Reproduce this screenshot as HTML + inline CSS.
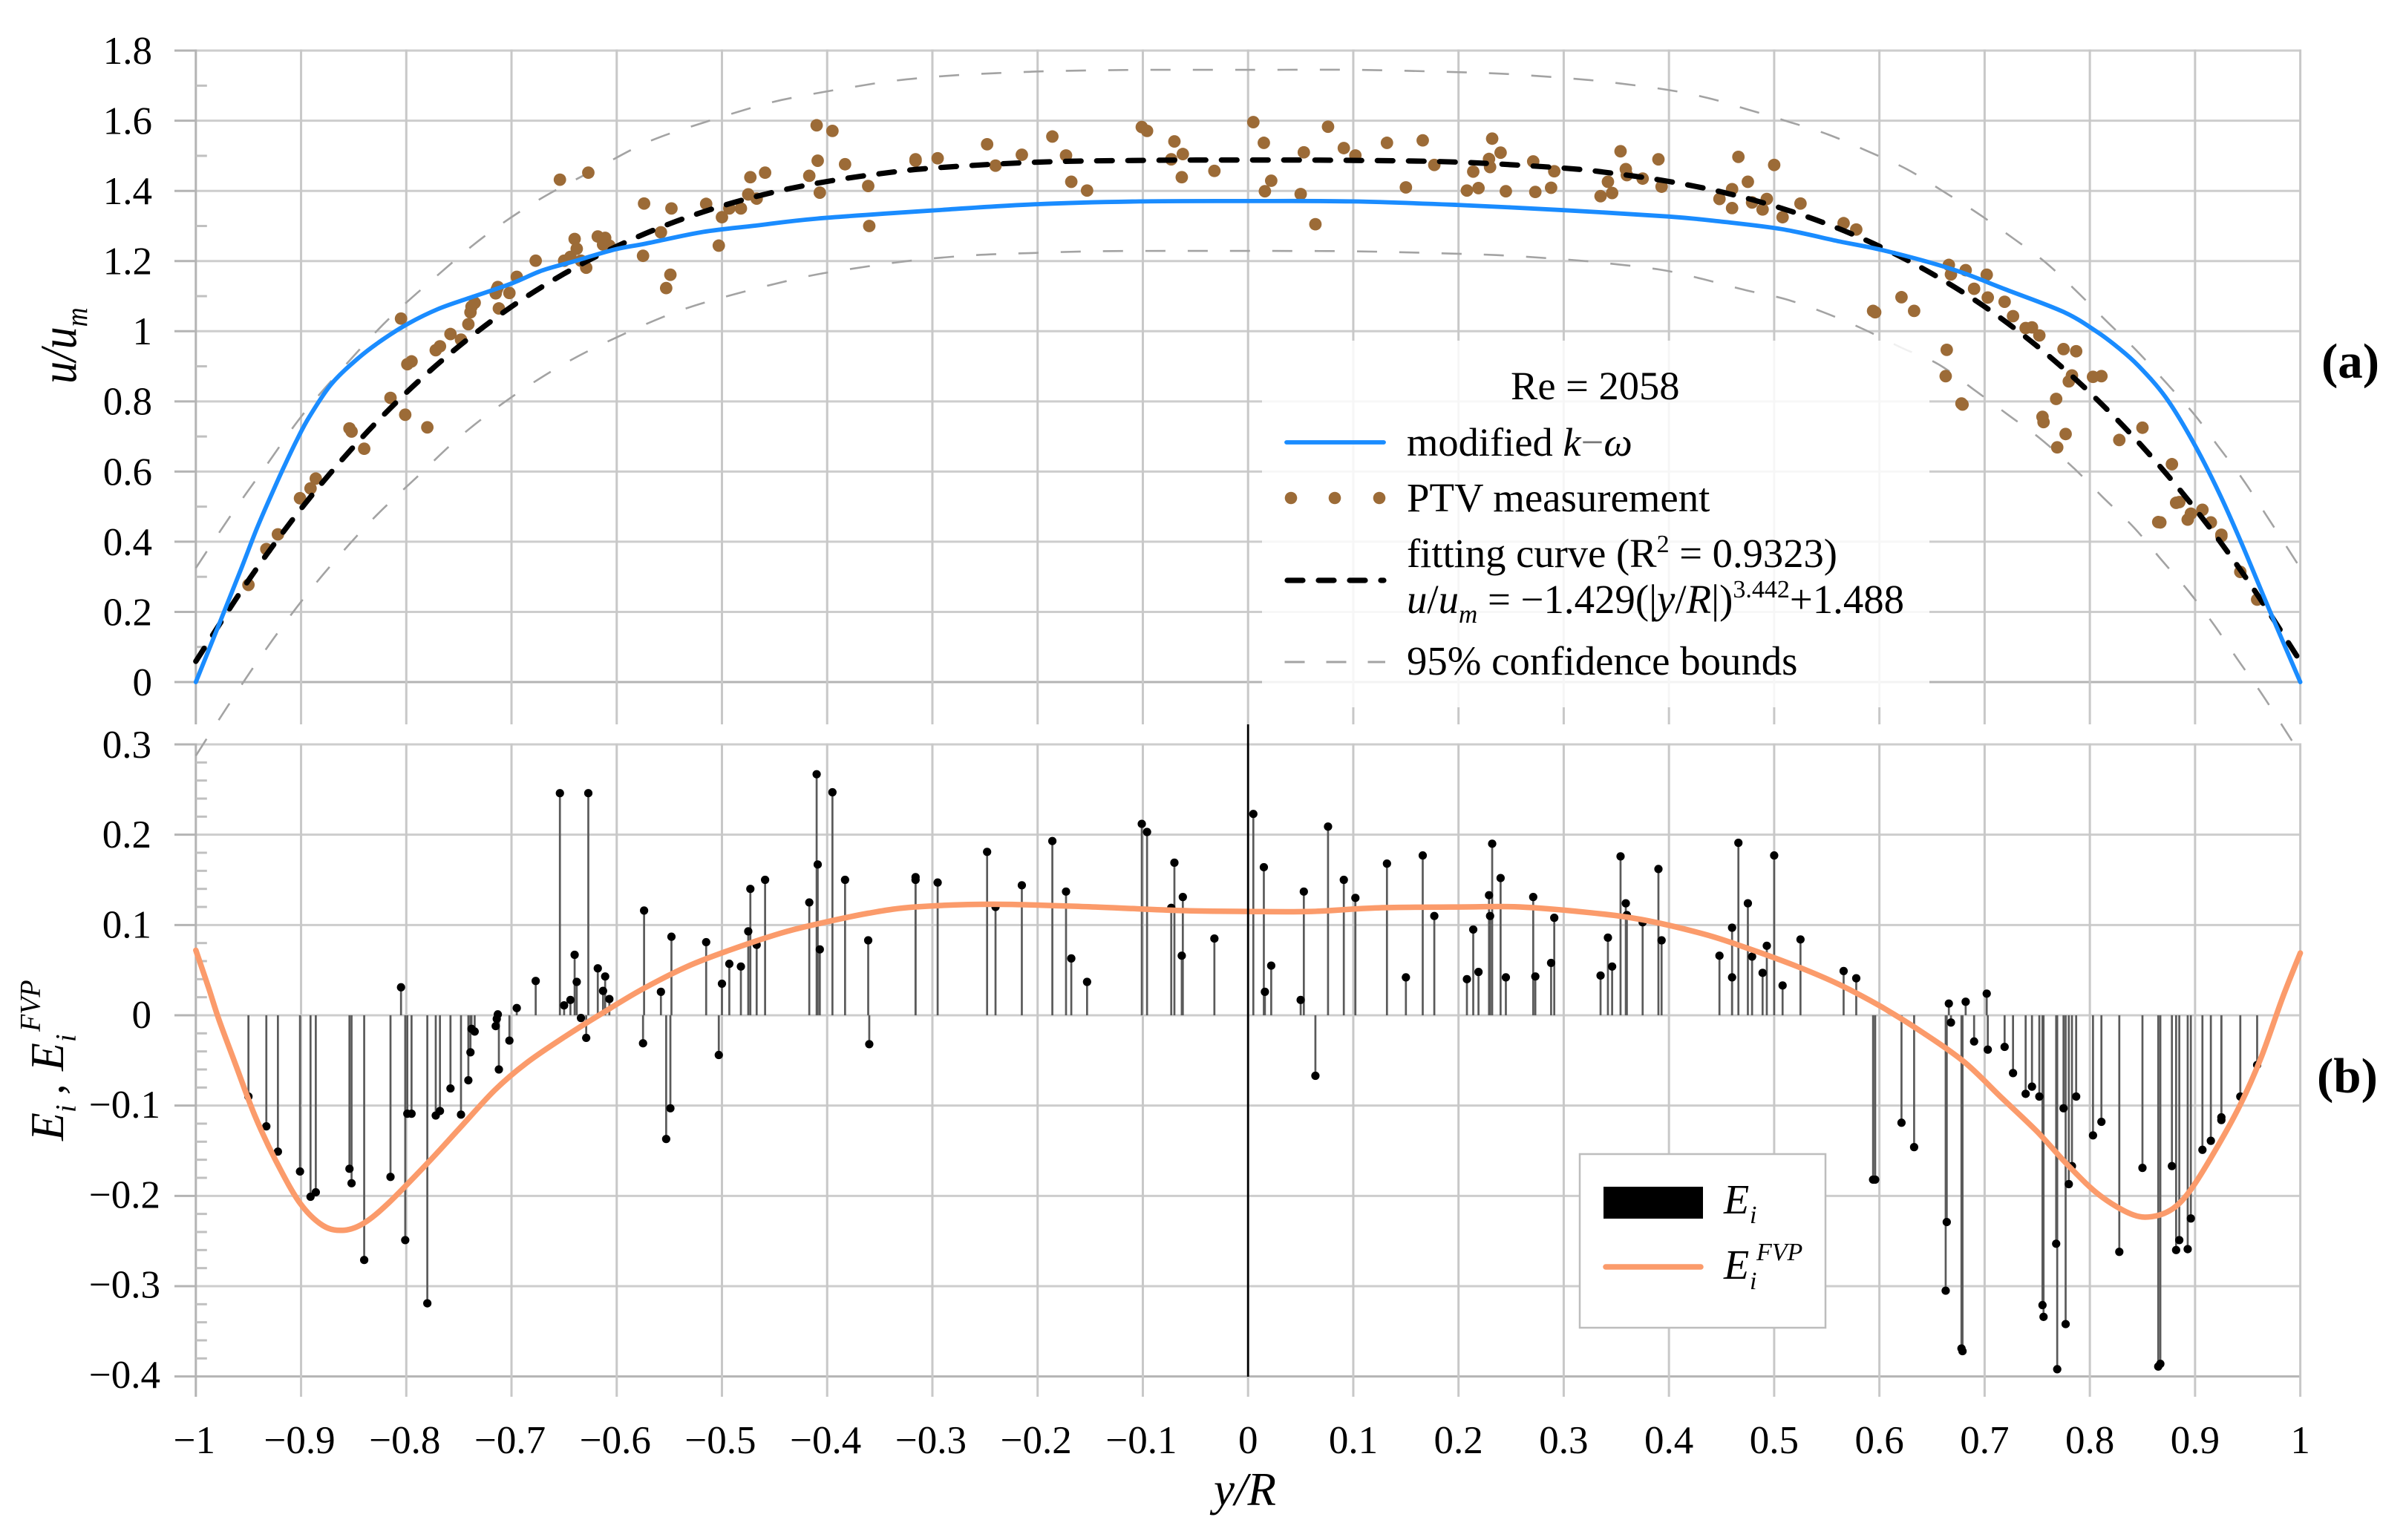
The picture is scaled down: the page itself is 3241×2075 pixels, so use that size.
<!DOCTYPE html>
<html lang="en">
<head>
<meta charset="utf-8">
<title>Velocity profile and error chart</title>
<style>
html,body{margin:0;padding:0;background:#fff;}
svg{display:block;}
text{font-family:"Liberation Serif",serif;fill:#000;}
.it{font-style:italic;}
</style>
</head>
<body>
<svg id="chart" xmlns="http://www.w3.org/2000/svg" width="3241" height="2075" viewBox="0 0 3241 2075">
<rect x="0" y="0" width="3241" height="2075" fill="#fff"/>
<g id="grid"></g>
<g id="bounds"></g>
<g id="points"></g>
<path id="fitLine" fill="none" stroke="#000" stroke-width="7.2" stroke-linecap="round" stroke-dasharray="21 21"/>
<path id="modelLine" fill="none" stroke="#1a8cff" stroke-width="5.8" stroke-linecap="round"/>
<g id="stems"></g>
<g id="errDots"></g>
<path id="fvpLine" fill="none" stroke="#fb9b6b" stroke-width="7.5" stroke-linecap="round"/>
<line x1="1681.2" y1="976" x2="1681.2" y2="1855" stroke="#000" stroke-width="2.8"/>
<g id="tickLabels" font-size="53"></g>

<g>
<rect x="1700" y="459" width="899" height="494" fill="#fff" fill-opacity="0.84"/>
<text x="2035" y="538" font-size="54.5">Re = 2058</text>
<line x1="1733" y1="596" x2="1864" y2="596" stroke="#1a8cff" stroke-width="5.8" stroke-linecap="round"/>
<text x="1895" y="614" font-size="54.5">modified <tspan class="it">k</tspan><tspan fill="#777">−</tspan><tspan class="it">ω</tspan></text>
<circle cx="1739" cy="671" r="8.3" fill="#9c6b37"/>
<circle cx="1798" cy="671" r="8.3" fill="#9c6b37"/>
<circle cx="1858" cy="671" r="8.3" fill="#9c6b37"/>
<text x="1895" y="689" font-size="54.8">PTV measurement</text>
<line x1="1734" y1="782" x2="1864" y2="782" stroke="#000" stroke-width="7.2" stroke-linecap="round" stroke-dasharray="21 21"/>
<text x="1895" y="764" font-size="54.6">fitting curve (R<tspan font-size="34" dy="-20">2</tspan><tspan dy="20"> = 0.9323)</tspan></text>
<text x="1895" y="826" font-size="54.8"><tspan class="it">u</tspan>/<tspan class="it">u</tspan><tspan class="it" font-size="35" dy="13">m</tspan><tspan dy="-13"> = −1.429(|</tspan><tspan class="it">y</tspan>/<tspan class="it">R</tspan>|)<tspan font-size="34" dy="-21">3.442</tspan><tspan dy="21">+1.488</tspan></text>
<line x1="1730.5" y1="892" x2="1866" y2="892" stroke="#a3a3a3" stroke-width="3" stroke-dasharray="27 29"/>
<text x="1895" y="909" font-size="54.8">95% confidence bounds</text>
</g>

<g>
<rect x="2128" y="1555" width="331" height="234" fill="#fff" stroke="#bdbdbd" stroke-width="2.5"/>
<rect x="2160" y="1599" width="134" height="43" fill="#000"/>
<line x1="2163" y1="1707" x2="2291" y2="1707" stroke="#fb9b6b" stroke-width="7.5" stroke-linecap="round"/>
<text class="it" x="2322" y="1635" font-size="56">E</text>
<text class="it" x="2357" y="1648" font-size="34">i</text>
<text class="it" x="2322" y="1723" font-size="56">E</text>
<text class="it" x="2357" y="1737" font-size="34">i</text>
<text class="it" x="2366" y="1698" font-size="34">FVP</text>
</g>

<g transform="translate(102,517) rotate(-90) scale(1,1.15)">
<text class="it" font-size="60">u/u<tspan font-size="36" dy="13">m</tspan></text>
</g>
<g transform="translate(85,1537) rotate(-90) scale(1,1.02)">
<text class="it" x="0" y="0" font-size="62">E</text>
<text class="it" x="38" y="16" font-size="38">i</text>
<text class="it" x="62" y="0" font-size="58">,</text>
<text class="it" x="94" y="0" font-size="62">E</text>
<text class="it" x="133" y="16" font-size="38">i</text>
<text class="it" x="147" y="-31" font-size="38">FVP</text>
</g>
<text x="1677" y="2028" font-size="63" text-anchor="middle" class="it">y/R</text>
<text x="3127" y="509" font-size="67" font-weight="bold">(a)</text>
<text x="3121" y="1472" font-size="67" font-weight="bold">(b)</text>
</svg>
<script>
const xTickLabels = ['−1','−0.9','−0.8','−0.7','−0.6','−0.5','−0.4','−0.3','−0.2','−0.1','0','0.1','0.2','0.3','0.4','0.5','0.6','0.7','0.8','0.9','1'];
const xTickValues = [-1,-0.9,-0.8,-0.7,-0.6,-0.5,-0.4,-0.3,-0.2,-0.1,0,0.1,0.2,0.3,0.4,0.5,0.6,0.7,0.8,0.9,1];
const uTickLabels = ['0','0.2','0.4','0.6','0.8','1','1.2','1.4','1.6','1.8'];
const uTickValues = [0,0.2,0.4,0.6,0.8,1,1.2,1.4,1.6,1.8];
const uMinorValues = [0.1,0.3,0.5,0.7,0.9,1.1,1.3,1.5,1.7];
const eTickLabels = ['0.3','0.2','0.1','0','−0.1','−0.2','−0.3','−0.4'];
const eTickValues = [0.3,0.2,0.1,0,-0.1,-0.2,-0.3,-0.4];
const eMinorValues = [0.28,0.26,0.24,0.22,0.18,0.16,0.14,0.12,0.08,0.06,0.04,0.02,-0.02,-0.04,-0.06,-0.08,-0.12,-0.14,-0.16,-0.18,-0.22,-0.24,-0.26,-0.28,-0.32,-0.34,-0.36,-0.38];

const ptvY = [-.950,-.933,-.922,-.901,-.891,-.886,-.854,-.852,-.840,-.815,-.805,-.801,-.799,-.795,-.780,-.772,-.768,-.758,-.748,-.741,-.739,-.738,-.735,-.715,-.714,-.713,-.712,-.702,-.695,-.677,-.654,-.650,-.644,-.640,-.638,-.634,-.629,-.627,-.618,-.613,-.611,-.607,-.575,-.574,-.558,-.553,-.549,-.548,-.515,-.503,-.500,-.493,-.482,-.475,-.473,-.467,-.459,-.417,
-.410,-.409,-.407,-.395,-.383,-.361,-.360,-.316,-.316,-.295,-.248,-.240,-.215,-.186,-.173,-.168,-.153,-.101,-.096,-.073,-.070,-.062,-.063,-.032,.005,.015,.016,.022,.050,.053,.064,.076,.091,.102,.132,.150,.166,.177,.208,.214,.219,.229,.230,.232,.240,.245,.271,.273,.288,.291,
.335,.342,.346,.354,.359,.360,.375,.390,.393,.448,.460,.460,.466,.475,.479,.489,.493,.500,.508,.525,.566,.578,.594,.596,.621,.633,.663,.664,.666,.668,.678,.679,.682,.690,.702,.703,.719,.727,.739,.745,.752,.755,.756,.768,.769,.775,.777,.780,.783,.787,.803,.811,.828,.850,.865,.867,.878,.882,.885,.893,.896,.907,.915,.925,.925,.943,.959];

const ptvU = [.277,.379,.421,.524,.552,.580,.723,.714,.665,.810,1.036,.762,.906,.914,.726,.946,.957,.992,.976,1.020,1.054,1.070,1.081,1.108,1.119,1.126,1.065,1.109,1.155,1.201,1.432,1.201,1.212,1.263,1.235,1.201,1.181,1.452,1.270,1.247,1.266,1.244,1.215,1.364,1.282,1.123,1.161,1.350,1.363,1.244,1.325,1.350,1.350,1.390,1.439,1.378,1.452,1.443,
1.587,1.486,1.395,1.571,1.476,1.414,1.300,1.490,1.486,1.493,1.533,1.472,1.503,1.555,1.501,1.426,1.401,1.582,1.571,1.490,1.541,1.505,1.439,1.457,1.596,1.537,1.399,1.429,1.391,1.510,1.305,1.583,1.522,1.501,1.537,1.410,1.544,1.474,1.401,1.455,1.408,1.491,1.468,1.549,1.509,1.399,1.484,1.397,1.409,1.456,
1.385,1.426,1.394,1.513,1.462,1.445,1.435,1.490,1.412,1.377,1.351,1.405,1.497,1.426,1.367,1.347,1.377,1.474,1.325,1.364,1.308,1.290,1.058,1.054,1.097,1.058,.872,.947,1.189,1.162,.794,.791,1.174,1.121,1.161,1.096,1.084,1.043,1.009,1.011,.988,.756,.741,.807,.669,.949,.707,.857,.874,.943,.870,.872,.690,.725,.456,.455,.621,.511,.513,.463,.480,.491,.455,.420,.416,.314,.235];

const errE = [-.090,-.123,-.151,-.173,-.201,-.196,-.170,-.186,-.271,-.179,.031,-.249,-.109,-.109,-.319,-.111,-.106,-.081,-.110,-.072,-.041,-.015,-.018,-.012,-.004,.001,-.060,-.028,.008,.038,.246,.011,.017,.067,.037,-.003,-.025,.246,.052,.027,.043,.018,-.031,.116,.026,-.137,-.103,.087,.081,-.044,.035,.057,.054,.093,.140,.078,.150,.125,
.267,.167,.073,.247,.150,.083,-.032,.153,.150,.147,.181,.120,.144,.193,.137,.063,.037,.212,.203,.119,.169,.131,.066,.085,.223,.164,.026,.055,.017,.137,-.067,.209,.150,.130,.168,.042,.177,.110,.040,.095,.048,.133,.110,.190,.152,.042,.131,.043,.058,.108,
.044,.086,.054,.176,.124,.111,.103,.162,.083,.066,.042,.097,.191,.124,.065,.047,.077,.177,.033,.084,.049,.041,-.182,-.182,-.119,-.146,-.305,-.229,.013,-.008,-.369,-.372,.015,-.029,.024,-.038,-.035,-.064,-.087,-.079,-.090,-.321,-.334,-.253,-.392,-.103,-.342,-.187,-.167,-.090,-.133,-.118,-.262,-.169,-.389,-.386,-.167,-.260,-.249,-.259,-.225,-.149,-.139,-.113,-.116,-.090,-.055];

const modelY = [-1,-.976,-.956,-.942,-.927,-.916,-.904,-.892,-.871,-.845,-.822,-.798,-.770,-.741,-.701,-.671,-.642,-.602,-.572,-.518,-.468,-.410,-.301,-.202,-.103,0,.100,.199,.300,.399,.448,.507,.562,.606,.671,.720,.775,.806,.827,.846,.872,.898,.923,.945,.970,1];
const modelU = [0,.179,.330,.438,.542,.615,.690,.757,.850,.925,.977,1.022,1.063,1.094,1.135,1.173,1.198,1.233,1.250,1.283,1.301,1.321,1.344,1.362,1.370,1.371,1.370,1.360,1.345,1.327,1.313,1.291,1.256,1.229,1.175,1.119,1.055,1.000,.953,.902,.812,.685,.538,.390,.210,0];

const fitY = [-1,-.95,-.9,-.85,-.8,-.75,-.7,-.65,-.6,-.55,-.5,-.45,-.4,-.35,-.3,-.2,-.1,0,.1,.2,.3,.35,.4,.45,.5,.55,.6,.65,.7,.75,.8,.85,.9,.95,1];
const fitU = [.059,.290,.494,.671,.825,.957,1.070,1.164,1.242,1.306,1.357,1.397,1.427,1.449,1.465,1.482,1.487,1.488,1.487,1.482,1.465,1.449,1.427,1.397,1.357,1.306,1.242,1.164,1.070,.957,.825,.671,.494,.290,.059];

const upperBoundY = [-1,-.967,-.932,-.898,-.857,-.817,-.772,-.726,-.676,-.622,-.570,-.514,-.456,-.416,-.378,-.339,-.299,-.259,-.220,-.180,-.100,0,.100,.181,.241,.300,.340,.399,.438,.475,.515,.552,.589,.626,.661,.693,.728,.758,.787,.814,.844,.871,.899,.921,.946,.968,.990,1];
const upperBoundU = [.325,.474,.622,.764,.906,1.034,1.155,1.270,1.371,1.459,1.540,1.598,1.650,1.675,1.695,1.713,1.725,1.733,1.738,1.742,1.745,1.745,1.745,1.740,1.734,1.722,1.711,1.688,1.664,1.632,1.596,1.560,1.513,1.462,1.398,1.337,1.263,1.196,1.115,1.034,.946,.858,.764,.676,.575,.474,.372,.325];

const lowerBoundY = [-1,-.978,-.946,-.910,-.873,-.832,-.790,-.746,-.699,-.647,-.594,-.538,-.481,-.421,-.383,-.324,-.264,-.205,-.143,-.064,0,.095,.174,.236,.295,.334,.393,.433,.473,.510,.547,.584,.621,.656,.691,.723,.752,.785,.812,.842,.869,.894,.918,.941,.963,.985,1];
const lowerBoundU = [-.210,-.107,.039,.190,.328,.464,.584,.707,.814,.912,.991,1.061,1.111,1.155,1.175,1.200,1.216,1.223,1.228,1.229,1.229,1.228,1.223,1.217,1.206,1.196,1.175,1.148,1.117,1.092,1.054,1.007,.953,.906,.831,.760,.696,.609,.528,.440,.345,.258,.163,.062,-.032,-.134,-.205];

const fvpY = [-1,-.988,-.978,-.963,-.944,-.924,-.901,-.879,-.859,-.840,-.817,-.780,-.750,-.716,-.686,-.651,-.617,-.577,-.533,-.493,-.444,-.410,-.361,-.316,-.242,-.148,-.064,0,.060,.124,.208,.258,.322,.374,.433,.473,.522,.562,.601,.641,.681,.715,.750,.780,.809,.839,.859,.879,.896,.918,.943,.963,.983,1];
const fvpE = [.072,.031,-.005,-.052,-.111,-.161,-.208,-.233,-.238,-.230,-.208,-.164,-.126,-.083,-.053,-.025,0,.028,.054,.072,.091,.101,.113,.120,.123,.120,.116,.115,.115,.119,.120,.120,.114,.106,.090,.075,.054,.034,.010,-.019,-.052,-.090,-.129,-.167,-.199,-.220,-.223,-.214,-.193,-.152,-.099,-.046,.019,.069];

const NS = 'http://www.w3.org/2000/svg';
function xS(v){ return 1681.2 + 1417.4 * v; }
function uS(v){ return 919 - 472.7 * v; }
function eS(v){ return 1368 - 1216.6 * v; }
function mk(parent, tag, attrs, txt){
  const el = document.createElementNS(NS, tag);
  for (const k in attrs) el.setAttribute(k, attrs[k]);
  if (txt !== undefined) el.textContent = txt;
  parent.appendChild(el);
  return el;
}
function smoothPath(xs, ys, fx, fy){
  const p = xs.map((x, i) => [fx(x), fy(ys[i])]);
  let d = 'M' + p[0][0].toFixed(1) + ' ' + p[0][1].toFixed(1);
  for (let i = 0; i < p.length - 1; i++){
    const a = p[Math.max(i - 1, 0)], b = p[i], c = p[i + 1], e = p[Math.min(i + 2, p.length - 1)];
    const c1x = b[0] + (c[0] - a[0]) / 6, c1y = b[1] + (c[1] - a[1]) / 6;
    const c2x = c[0] - (e[0] - b[0]) / 6, c2y = c[1] - (e[1] - b[1]) / 6;
    d += 'C' + c1x.toFixed(1) + ' ' + c1y.toFixed(1) + ' ' + c2x.toFixed(1) + ' ' + c2y.toFixed(1) + ' ' + c[0].toFixed(1) + ' ' + c[1].toFixed(1);
  }
  return d;
}

const grid = document.getElementById('grid');
uTickValues.forEach(function(v){
  const l = mk(grid, 'line', {x1:xS(-1), x2:xS(1), y1:uS(v), y2:uS(v), stroke: v === 0 ? '#b4b4b4' : '#cdcdcd', 'stroke-width':3});
  
  
  const t = mk(grid, 'line', {x1:235, x2:xS(-1), y1:uS(v), y2:uS(v), stroke:'#b4b4b4', 'stroke-width':3});
  
  
});
eTickValues.forEach(function(v){
  const l = mk(grid, 'line', {x1:xS(-1), x2:xS(1), y1:eS(v), y2:eS(v), stroke: v === -0.4 ? '#b4b4b4' : '#cdcdcd', 'stroke-width':3});
  
  
  const t = mk(grid, 'line', {x1:235, x2:xS(-1), y1:eS(v), y2:eS(v), stroke:'#b4b4b4', 'stroke-width':3});
  
  
});
xTickValues.forEach(function(v){
  const edge = (v === -1);
  const up = mk(grid, 'line', {x1:xS(v), x2:xS(v), y1:uS(1.8) - 1.5, y2:976, stroke: edge ? '#b4b4b4' : '#c8c8c8', 'stroke-width':3});
  
  
  const lo = mk(grid, 'line', {x1:xS(v), x2:xS(v), y1:eS(0.3) - 1.5, y2:1882, stroke: edge ? '#b4b4b4' : '#c8c8c8', 'stroke-width':3});
  
  
});
uMinorValues.forEach(function(v){
  const l = mk(grid, 'line', {x1:xS(-1), x2:xS(-1) + 15, y1:uS(v), y2:uS(v), stroke:'#c0c0c0', 'stroke-width':3});
  
  
});
eMinorValues.forEach(function(v){
  const l = mk(grid, 'line', {x1:xS(-1), x2:xS(-1) + 15, y1:eS(v), y2:eS(v), stroke:'#c0c0c0', 'stroke-width':3});
  
  
});

const bounds = document.getElementById('bounds');
const ub = mk(bounds, 'path', {d:smoothPath(upperBoundY, upperBoundU, xS, uS), fill:'none', stroke:'#a3a3a3', 'stroke-width':2.6, 'stroke-dasharray':'27 30'});


const lb = mk(bounds, 'path', {d:smoothPath(lowerBoundY, lowerBoundU, xS, uS), fill:'none', stroke:'#a3a3a3', 'stroke-width':2.6, 'stroke-dasharray':'27 30'});



const pts = document.getElementById('points');
ptvY.forEach(function(y, i){
  const c = mk(pts, 'circle', {cx:xS(y), cy:uS(ptvU[i]), r:8.4, fill:'#9c6b37'});
  
  
});

document.getElementById('fitLine').setAttribute('d', smoothPath(fitY, fitU, xS, uS));
document.getElementById('modelLine').setAttribute('d', smoothPath(modelY, modelU, xS, uS));
document.getElementById('fvpLine').setAttribute('d', smoothPath(fvpY, fvpE, xS, eS));

const stems = document.getElementById('stems');
const dots = document.getElementById('errDots');
ptvY.forEach(function(y, i){
  const s = mk(stems, 'line', {x1:xS(y), x2:xS(y), y1:eS(0), y2:eS(errE[i]), stroke:'#5a5a5a', 'stroke-width':2.7});
  
  
  const d = mk(dots, 'circle', {cx:xS(y), cy:eS(errE[i]), r:5.6, fill:'#000'});
  
  
});

const tl = document.getElementById('tickLabels');
xTickValues.forEach(function(v, i){
  const t = mk(tl, 'text', {x:xS(v) + (v < 0 ? -2 : 0), y:1958, 'text-anchor':'middle'}, xTickLabels[i]);
  
  
});
uTickValues.forEach(function(v, i){
  const t = mk(tl, 'text', {x:205, y:uS(v) + 17.9, 'text-anchor':'end'}, uTickLabels[i]);
  
  
});
eTickValues.forEach(function(v, i){
  const t = mk(tl, 'text', {x: v < 0 ? 216 : 204, y:eS(v) + 16.8 + 3.7 * v, 'text-anchor':'end'}, eTickLabels[i]);
  
  
});
</script>
</body>
</html>
